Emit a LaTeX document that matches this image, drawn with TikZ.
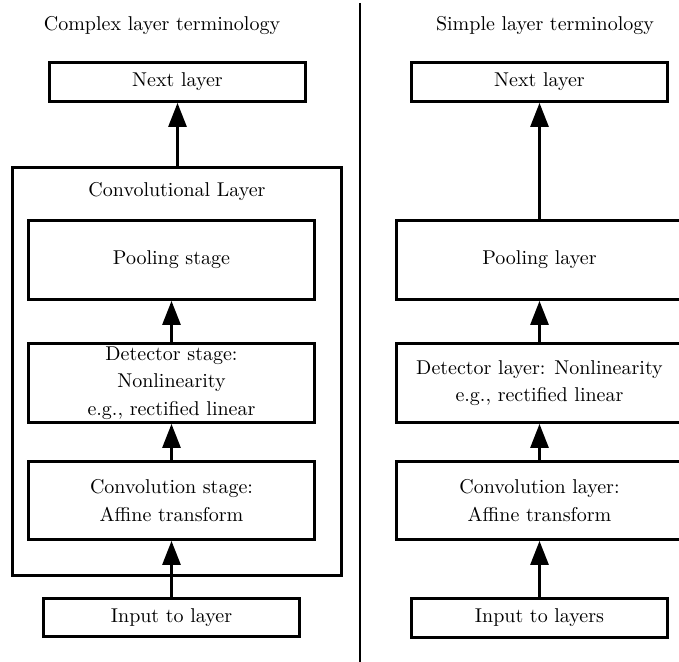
\documentclass[tikz,border=0pt]{standalone}
\usetikzlibrary{arrows.meta}
\begin{document}
\begin{tikzpicture}[x=0.5pt,y=-0.5pt,
  box/.style={draw,line width=1.4pt,inner sep=0pt,align=center,font=\linespread{1.15}\selectfont},
  arr/.style={line width=1.4pt,-{Triangle[length=12pt,width=9pt]}},
  lbl/.style={inner sep=0pt}]
\useasboundingbox (0,0) rectangle (679,662);
% left
\node[lbl] (titleL) at (162,26) {Complex layer terminology};
\node[box,minimum width=128pt,minimum height=19.5pt] (nextL) at (177.5,82) {Next layer};
\node[box,minimum width=164.5pt,minimum height=204pt] (outer) at (177,371.5) {};
\node[lbl] (convtitle) at (177,192) {Convolutional Layer};
\node[box,minimum width=143pt,minimum height=39.5pt] (poolL) at (171.5,260) {Pooling stage};
\node[box,minimum width=143pt,minimum height=39.5pt] (detL) at (171.5,383) {Detector stage:\\Nonlinearity\\e.g., rectified linear};
\node[box,minimum width=143pt,minimum height=39pt] (convL) at (171.5,500.5) {Convolution stage:\\Affine transform};
\node[box,minimum width=128pt,minimum height=19pt] (inL) at (171.5,617.5) {Input to layer};
\draw[arr] (outer.north -| nextL) -- (nextL.south);
\draw[arr] (detL.north) -- (poolL.south);
\draw[arr] (convL.north) -- (detL.south);
\draw[arr] (inL.north) -- (convL.south);
% divider
\coordinate (dtop) at (360,3);
\coordinate (dbot) at (360,662);
\draw[line width=1.4pt] (dtop) -- (dbot);
% right
\node[lbl] (titleR) at (545,26) {Simple layer terminology};
\node[box,minimum width=128pt,minimum height=19.5pt] (nextR) at (539.5,82) {Next layer};
\node[box,minimum width=143pt,minimum height=39.5pt] (poolR) at (539.5,260) {Pooling layer};
\node[box,minimum width=143pt,minimum height=39.5pt] (detR) at (539.5,383) {Detector layer: Nonlinearity\\e.g., rectified linear};
\node[box,minimum width=143pt,minimum height=39pt] (convR) at (539.5,500.5) {Convolution layer:\\Affine transform};
\node[box,minimum width=128pt,minimum height=19.5pt] (inR) at (539.5,618) {Input to layers};
\draw[arr] (poolR.north) -- (nextR.south);
\draw[arr] (detR.north) -- (poolR.south);
\draw[arr] (convR.north) -- (detR.south);
\draw[arr] (inR.north) -- (convR.south);
\end{tikzpicture}
\end{document}
